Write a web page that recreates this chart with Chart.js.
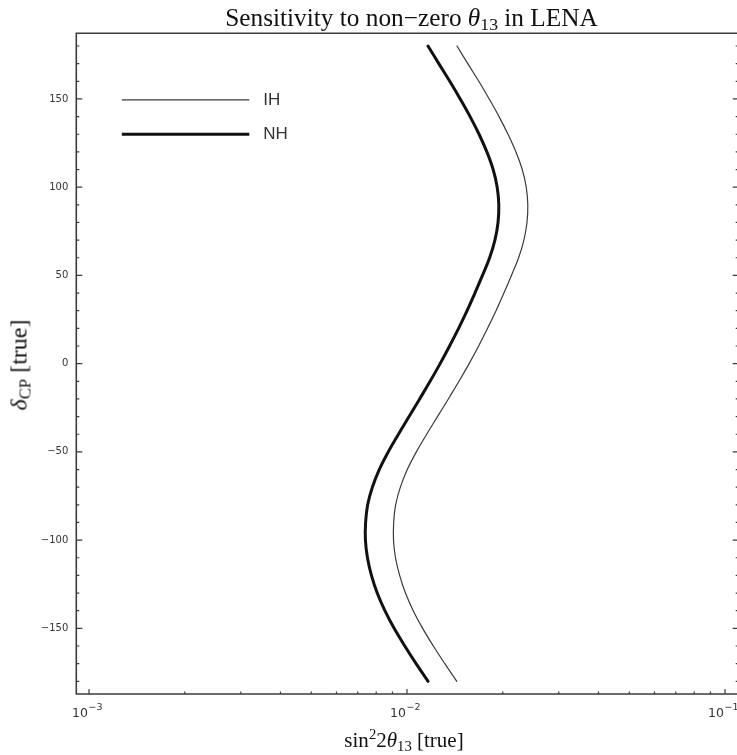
<!DOCTYPE html>
<html>
<head>
<meta charset="utf-8">
<script src="https://cdn.jsdelivr.net/npm/chart.js@4/dist/chart.umd.min.js"></script>
<style>
  html, body { margin: 0; padding: 0; background: #fff; overflow: hidden; width: 737px; height: 755px; }
  #wrap { position: relative; width: 745px; height: 755px; }
  #plot { position: absolute; left: 0; top: 0; }
  .serif { font-family: "Liberation Serif", "Times New Roman", serif; color: #111; white-space: nowrap; position: absolute; }
  #title { left: 0; width: 823px; text-align: center; top: 3px; font-size: 25.3px; }
  #xlabel { left: 0; width: 808px; text-align: center; top: 728px; font-size: 21px; }
  #ylabel { left: 19px; top: 365px; font-size: 24px; transform: translate(-50%, -50%) rotate(-90deg); }
  sub, sup { font-size: 70%; line-height: 0; }
  sub { vertical-align: -0.25em; }
  sup { vertical-align: 0.55em; }
</style>
</head>
<body>
<div id="wrap">
  <canvas id="plot" width="745" height="755"></canvas>
  <div id="title" class="serif">Sensitivity to non−zero <i>θ</i><sub>13</sub> in LENA</div>
  <div id="xlabel" class="serif">sin<sup>2</sup>2<i>θ</i><sub>13</sub> [true]</div>
  <div id="ylabel" class="serif"><i>δ</i><sub>CP</sub> [true]</div>
</div>
<script>
// δCP (degrees) along each sensitivity contour, top to bottom
const DELTA_CP = [180, 170, 160, 150, 140, 130, 120, 110, 100, 90, 80, 70, 60, 50, 40, 30, 20, 10, 0,
                  -10, -20, -30, -40, -50, -60, -70, -80, -90, -100, -110, -120, -130, -140, -150, -160, -170, -180];
// sin²2θ13 reach for inverted hierarchy
const S2T_IH = [0.01436, 0.01553, 0.01682, 0.01813, 0.01947, 0.02078, 0.02200, 0.02303, 0.02371, 0.02398,
                0.02384, 0.02331, 0.02244, 0.02130, 0.02017, 0.01905, 0.01792, 0.01680, 0.01568,
                0.01457, 0.01349, 0.01247, 0.01153, 0.01070, 0.01002, 0.00953, 0.00921, 0.00908,
                0.00907, 0.00920, 0.00948, 0.00989, 0.01046, 0.01120, 0.01210, 0.01315, 0.01434];
// sin²2θ13 reach for normal hierarchy
const S2T_NH = [0.01164, 0.01259, 0.01363, 0.01470, 0.01579, 0.01685, 0.01783, 0.01866, 0.01921, 0.01944,
                0.01933, 0.01890, 0.01819, 0.01727, 0.01635, 0.01545, 0.01453, 0.01361, 0.01271,
                0.01182, 0.01096, 0.01015, 0.00940, 0.00873, 0.00818, 0.00778, 0.00752, 0.00741,
                0.00740, 0.00751, 0.00773, 0.00806, 0.00852, 0.00911, 0.00984, 0.01068, 0.01165];

const SERIES_NAMES = ['IH', 'NH'];
const X_MAJOR = [0.001, 0.01, 0.1];
const X_TICK_LABELS = [['10', '−3'], ['10', '−2'], ['10', '−1']];
const Y_MAJOR = [-150, -100, -50, 0, 50, 100, 150];
const Y_MINOR = [-180, -170, -160, -140, -130, -120, -110, -90, -80, -70, -60, -40, -30, -20, -10,
                 10, 20, 30, 40, 60, 70, 80, 90, 110, 120, 130, 140, 160, 170, 180];

const FRAME_COLOR = '#3c3c3c';
const TEXT_COLOR = '#333';

function points(xs) {
  return xs.map((x, i) => ({ x: x, y: DELTA_CP[i] }));
}

// Frame with inward-pointing tick marks, plus the x tick labels with exponents
const framePlugin = {
  id: 'frame',
  afterDraw(chart) {
    const ctx = chart.ctx;
    const { left, right, top, bottom } = chart.chartArea;
    const xs = chart.scales.x, ys = chart.scales.y;
    ctx.save();
    ctx.strokeStyle = FRAME_COLOR;
    ctx.lineWidth = 1.6;
    ctx.beginPath();
    ctx.moveTo(left, top); ctx.lineTo(right, top); ctx.lineTo(right, bottom); ctx.lineTo(left, bottom); ctx.closePath();
    ctx.stroke();

    ctx.lineWidth = 1.2;
    ctx.beginPath();
    const yTick = (v, len) => {
      const y = ys.getPixelForValue(v);
      ctx.moveTo(left, y); ctx.lineTo(left + len, y);
      ctx.moveTo(right, y); ctx.lineTo(right - len, y);
    };
    Y_MAJOR.forEach(v => yTick(v, 6));
    Y_MINOR.forEach(v => yTick(v, 3));
    X_MAJOR.forEach(dec => {
      for (let m = 1; m <= 9; m++) {
        const v = dec * m;
        if (v < xs.min || v > xs.max) continue;
        const x = xs.getPixelForValue(v);
        const len = m === 1 ? 5 : 2.5;
        ctx.moveTo(x, bottom); ctx.lineTo(x, bottom - len);
      }
    });
    ctx.stroke();

    ctx.fillStyle = TEXT_COLOR;
    ctx.textBaseline = 'alphabetic';
    ctx.textAlign = 'left';
    const baseFont = '12.5px "DejaVu Sans"', expFont = '9.5px "DejaVu Sans"';
    X_MAJOR.forEach((v, i) => {
      const x = xs.getPixelForValue(v);
      const [base, exp] = X_TICK_LABELS[i];
      ctx.font = baseFont;
      const wb = ctx.measureText(base).width;
      ctx.font = expFont;
      const we = ctx.measureText(exp).width;
      const x0 = x - (wb + we) / 2 - 2;
      ctx.font = baseFont;
      ctx.fillText(base, x0, bottom + 23);
      ctx.font = expFont;
      ctx.fillText(exp, x0 + wb + 0.5, bottom + 15.5);
    });
    ctx.restore();
  }
};

// Line-sample legend in the upper left corner of the plot
const legendPlugin = {
  id: 'cornerLegend',
  afterDraw(chart) {
    const ctx = chart.ctx;
    const { left, top } = chart.chartArea;
    ctx.save();
    chart.data.datasets.forEach((ds, i) => {
      const y = top + 66.5 + i * 34.5;
      ctx.strokeStyle = ds.borderColor;
      ctx.lineWidth = ds.borderWidth;
      ctx.beginPath();
      ctx.moveTo(left + 45.5, y); ctx.lineTo(left + 173, y);
      ctx.stroke();
      ctx.fillStyle = TEXT_COLOR;
      ctx.font = '17px "Liberation Sans", Arial, sans-serif';
      ctx.textBaseline = 'middle';
      ctx.fillText(ds.label, left + 187, y + 0.5);
    });
    ctx.restore();
  }
};

new Chart(document.getElementById('plot'), {
  type: 'scatter',
  data: {
    datasets: [
      { label: SERIES_NAMES[0], data: points(S2T_IH), showLine: true, borderColor: '#3a3a3a', borderWidth: 1.2,
        pointRadius: 0, tension: 0.4, borderCapStyle: 'round', borderJoinStyle: 'round', fill: false },
      { label: SERIES_NAMES[1], data: points(S2T_NH), showLine: true, borderColor: '#111', borderWidth: 3,
        pointRadius: 0, tension: 0.4, borderCapStyle: 'round', borderJoinStyle: 'round', fill: false }
    ]
  },
  options: {
    responsive: false,
    animation: false,
    devicePixelRatio: 1,
    layout: { padding: { left: 0, top: 33.3, right: 6.3, bottom: 0 } },
    plugins: { legend: { display: false }, tooltip: { enabled: false }, title: { display: false } },
    scales: {
      x: {
        type: 'logarithmic',
        min: Math.pow(10, -3.04),
        max: Math.pow(10, -0.9569),
        grid: { display: false, drawTicks: false },
        border: { display: false },
        ticks: { display: false },
        afterBuildTicks(s) { s.ticks = X_MAJOR.map(v => ({ value: v })); },
        afterFit(s) { s.height = 61; }
      },
      y: {
        type: 'linear',
        min: -187.2,
        max: 187.2,
        grid: { display: false, drawTicks: false },
        border: { display: false },
        ticks: {
          color: TEXT_COLOR,
          font: { family: 'DejaVu Sans', size: 10 },
          padding: 8,
          callback: v => (v < 0 ? '−' + Math.abs(v) : String(v))
        },
        afterBuildTicks(s) { s.ticks = Y_MAJOR.map(v => ({ value: v })); },
        afterFit(s) { s.width = 76.3; }
      }
    }
  },
  plugins: [framePlugin, legendPlugin]
});
</script>
</body>
</html>
